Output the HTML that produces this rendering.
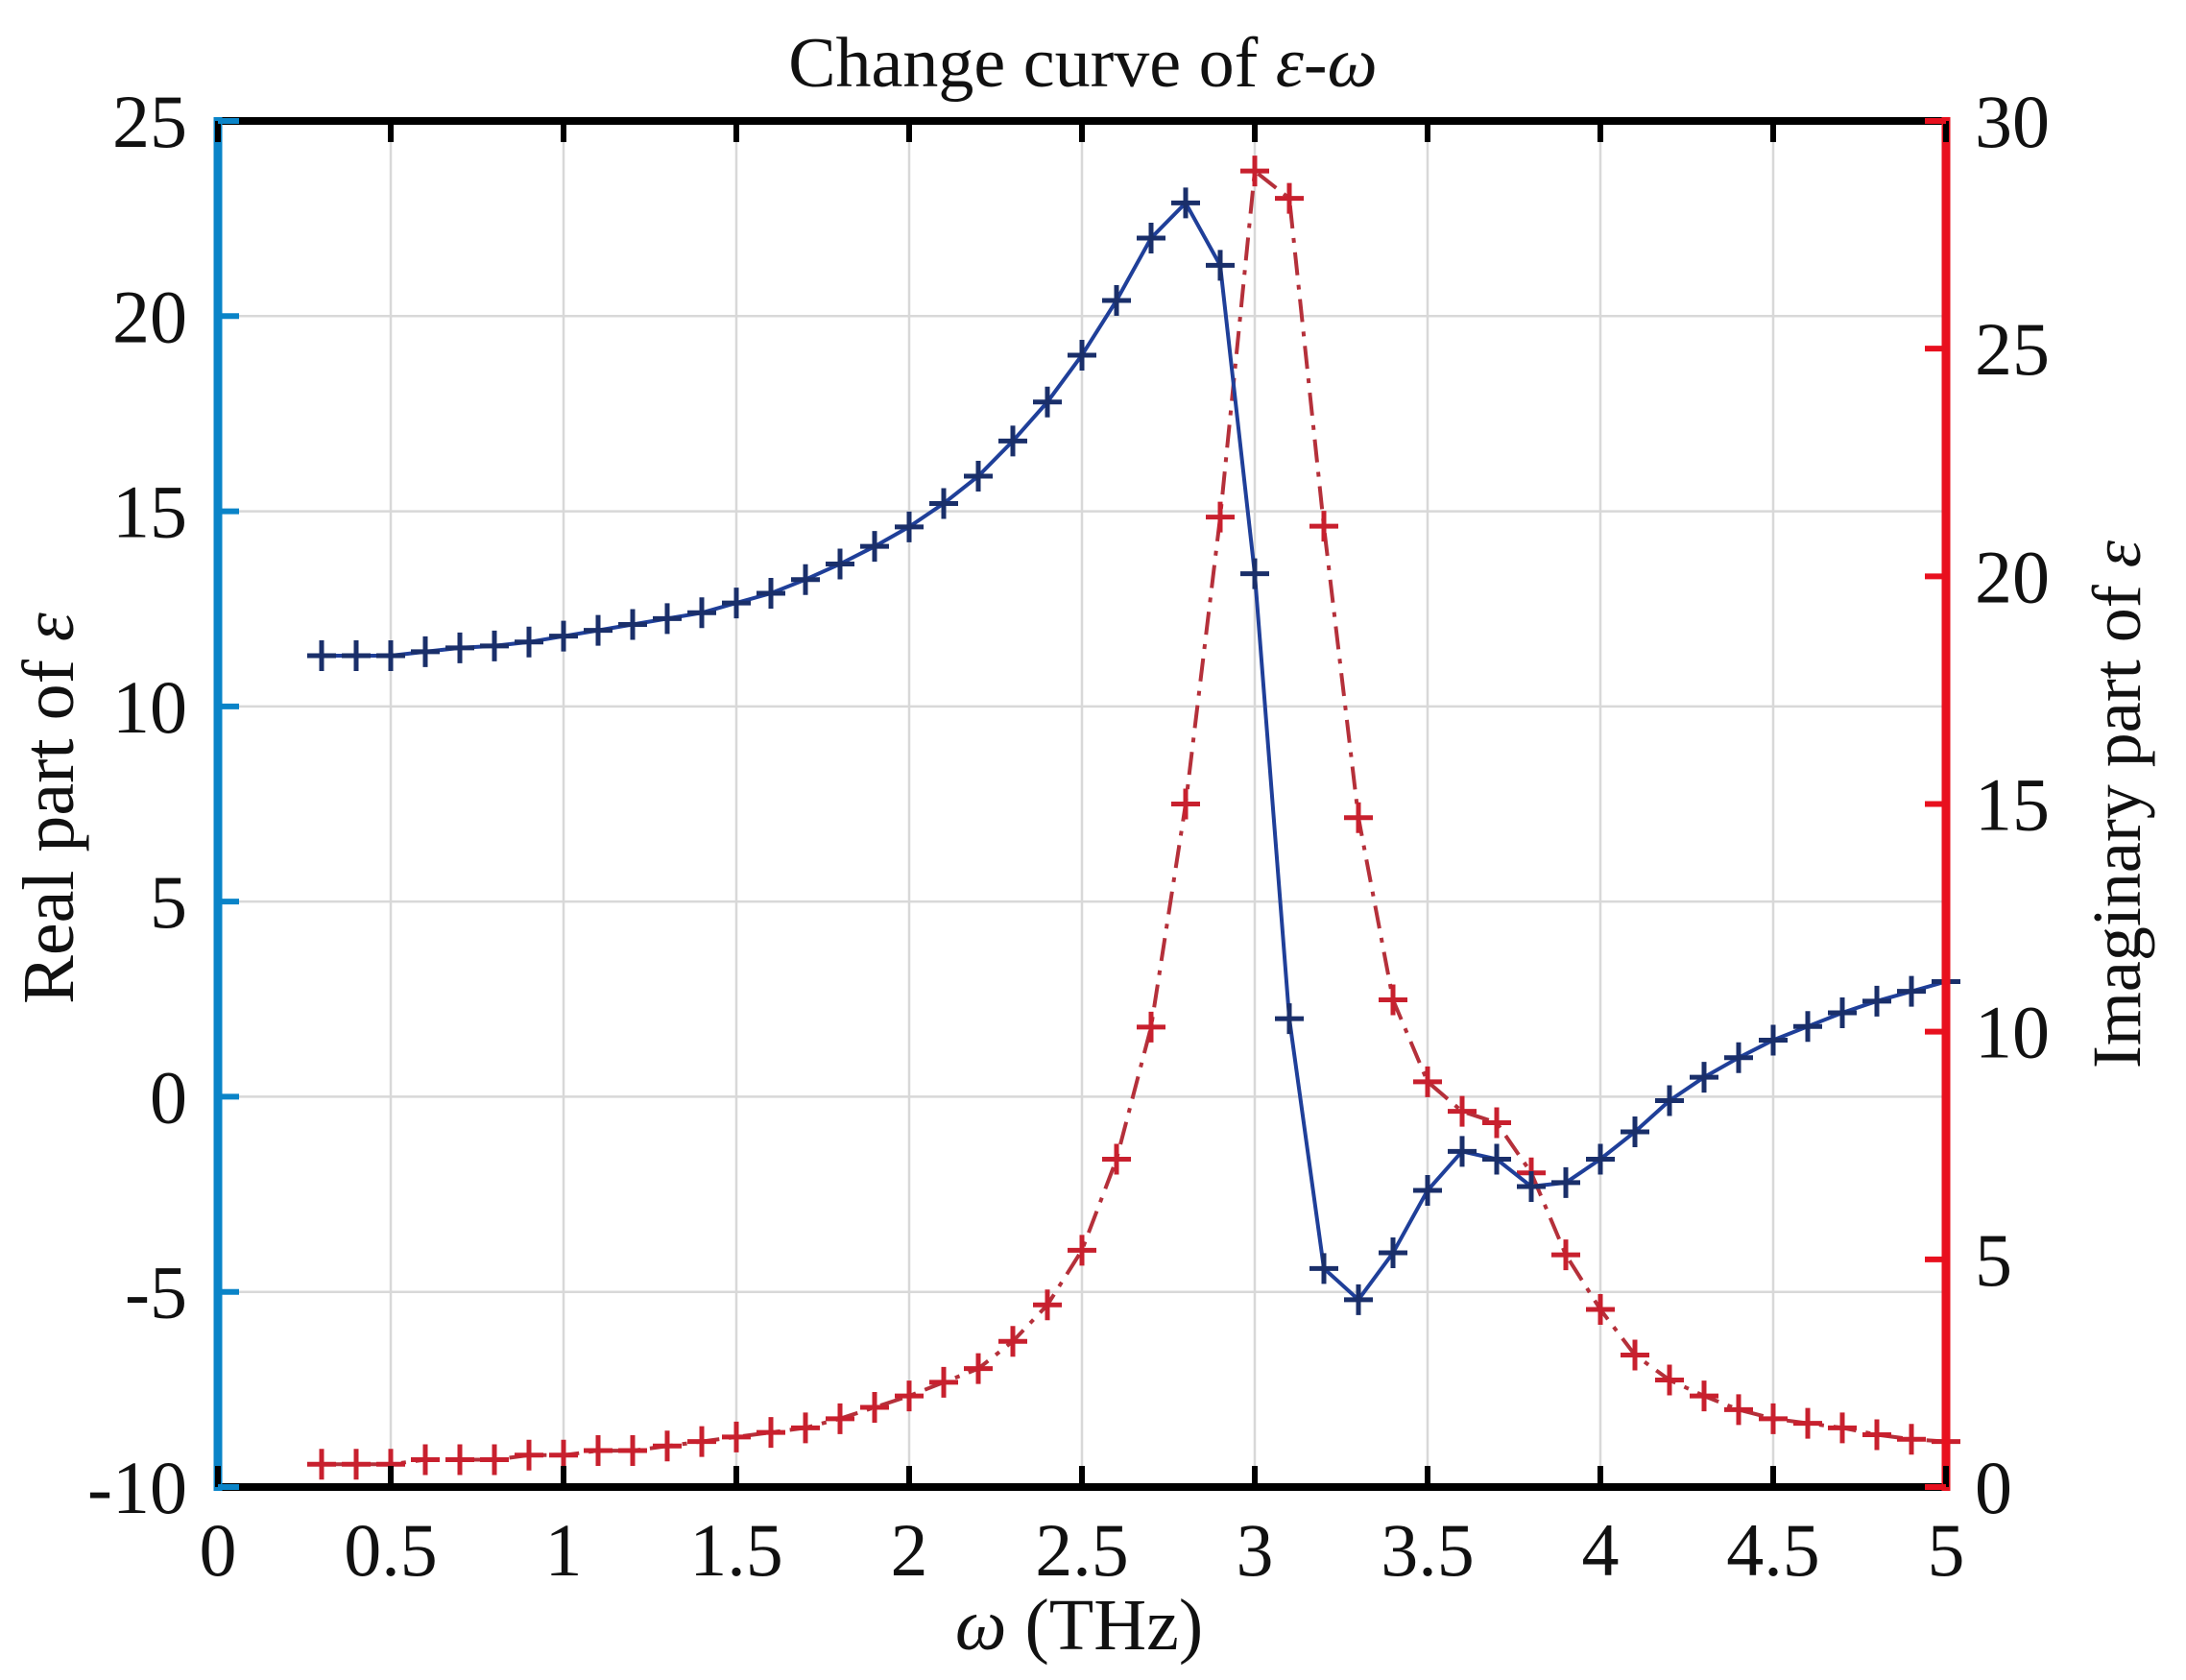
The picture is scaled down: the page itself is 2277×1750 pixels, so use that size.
<!DOCTYPE html>
<html><head><meta charset="utf-8">
<style>
html,body{margin:0;padding:0;background:#fff;}
svg{display:block;}
text{font-family:"Liberation Serif",serif;fill:#111;}
</style></head>
<body>
<svg id="s" width="2277" height="1750" viewBox="0 0 2277 1750" xmlns="http://www.w3.org/2000/svg">
<rect width="2277" height="1750" fill="#fff"/>
<g id="grid"></g>
<g id="curves"></g>
<g id="axes"></g>
<text x="1128" y="90" font-size="74" text-anchor="middle">Change curve of <tspan font-style="italic">ε</tspan>-<tspan font-style="italic">ω</tspan></text>
<text x="1124" y="1718" font-size="76" text-anchor="middle"><tspan font-style="italic">ω</tspan> (THz)</text>
<text transform="translate(76,842) rotate(-90)" font-size="76" text-anchor="middle">Real part of <tspan font-style="italic">ε</tspan></text>
<text transform="translate(2229,838) rotate(-90)" font-size="72" text-anchor="middle">Imaginary part of <tspan font-style="italic">ε</tspan></text>
</svg>
<script>
const X0=227,X1=2027,Y0=126,Y1=1549;
const fx=x=>X0+(X1-X0)*x/5;
const fyL=v=>Y0+(Y1-Y0)*(25-v)/35;
const fyR=v=>Y0+(Y1-Y0)*(30-v)/30;
let g='',c='',a='';
for(let i=1;i<10;i++){const x=fx(i*0.5);g+=`<line x1="${x}" y1="${Y0}" x2="${x}" y2="${Y1}" stroke="#d8d8d8" stroke-width="2.5"/>`;}
for(let v=-5;v<25;v+=5){const y=fyL(v);g+=`<line x1="${X0}" y1="${y}" x2="${X1}" y2="${y}" stroke="#d8d8d8" stroke-width="2.5"/>`;}
const re=[11.3,11.3,11.3,11.4,11.5,11.55,11.65,11.8,11.95,12.1,12.25,12.4,12.65,12.9,13.25,13.65,14.1,14.6,15.2,15.9,16.8,17.8,19.0,20.4,22.0,22.9,21.3,13.4,2.0,-4.4,-5.2,-4.0,-2.4,-1.4,-1.6,-2.3,-2.2,-1.6,-0.9,-0.1,0.5,1.0,1.45,1.8,2.15,2.45,2.7,2.95];
const im=[0.5,0.5,0.5,0.6,0.6,0.6,0.7,0.7,0.8,0.8,0.9,1.0,1.1,1.2,1.3,1.5,1.75,2.0,2.3,2.6,3.2,4.0,5.2,7.2,10.1,15.0,21.3,28.9,28.3,21.1,14.7,10.7,8.9,8.25,8.0,6.9,5.1,3.9,2.9,2.35,2.0,1.7,1.5,1.4,1.3,1.15,1.05,1.0];
function series(d,fy,lc,mc,dash){
 let p=d.map((v,i)=>fx(0.3+i*0.1).toFixed(1)+','+fy(v).toFixed(1)).join(' ');
 let s=`<polyline points="${p}" fill="none" stroke="${lc}" stroke-width="4" ${dash?'stroke-dasharray="24,10,5,10"':''}/>`;
 d.forEach((v,i)=>{const x=fx(0.3+i*0.1),y=fy(v);s+=`<path d="M${x-15} ${y}H${x+15}M${x} ${y-16}V${y+16}" stroke="${mc}" stroke-width="5"/>`;});
 return s;}
c+=series(im,fyR,'#b5303a','#c8202e',true);
c+=series(re,fyL,'#1f3f99','#1a2f6a',false);
a+=`<line x1="${X0}" y1="${Y0}" x2="${X1}" y2="${Y0}" stroke="#000" stroke-width="8"/>`;
a+=`<line x1="${X0}" y1="${Y1}" x2="${X1}" y2="${Y1}" stroke="#000" stroke-width="8"/>`;
a+=`<line x1="${X0}" y1="${Y0-4}" x2="${X0}" y2="${Y1+4}" stroke="#0a84c8" stroke-width="9"/>`;
a+=`<line x1="${X1}" y1="${Y0-4}" x2="${X1}" y2="${Y1+4}" stroke="#e8101e" stroke-width="9"/>`;
for(let i=0;i<=10;i++){const x=fx(i*0.5);
 a+=`<line x1="${x}" y1="${Y1}" x2="${x}" y2="${Y1-22}" stroke="#000" stroke-width="6"/><line x1="${x}" y1="${Y0}" x2="${x}" y2="${Y0+22}" stroke="#000" stroke-width="6"/>`;
 a+=`<text x="${x}" y="${Y1+92}" font-size="78" text-anchor="middle">${i*0.5}</text>`;}
for(let v=-10;v<=25;v+=5){const y=fyL(v);
 a+=`<line x1="${X0}" y1="${y}" x2="${X0+22}" y2="${y}" stroke="#0a84c8" stroke-width="6"/>`;
 a+=`<text x="${X0-32}" y="${y+27}" font-size="78" text-anchor="end">${v}</text>`;}
for(let v=0;v<=30;v+=5){const y=fyR(v);
 a+=`<line x1="${X1}" y1="${y}" x2="${X1-22}" y2="${y}" stroke="#e8101e" stroke-width="6"/>`;
 a+=`<text x="${X1+30}" y="${y+27}" font-size="78" text-anchor="start">${v}</text>`;}
document.getElementById('grid').innerHTML=g;
document.getElementById('curves').innerHTML=c;
document.getElementById('axes').innerHTML=a;
</script>
</body></html>
